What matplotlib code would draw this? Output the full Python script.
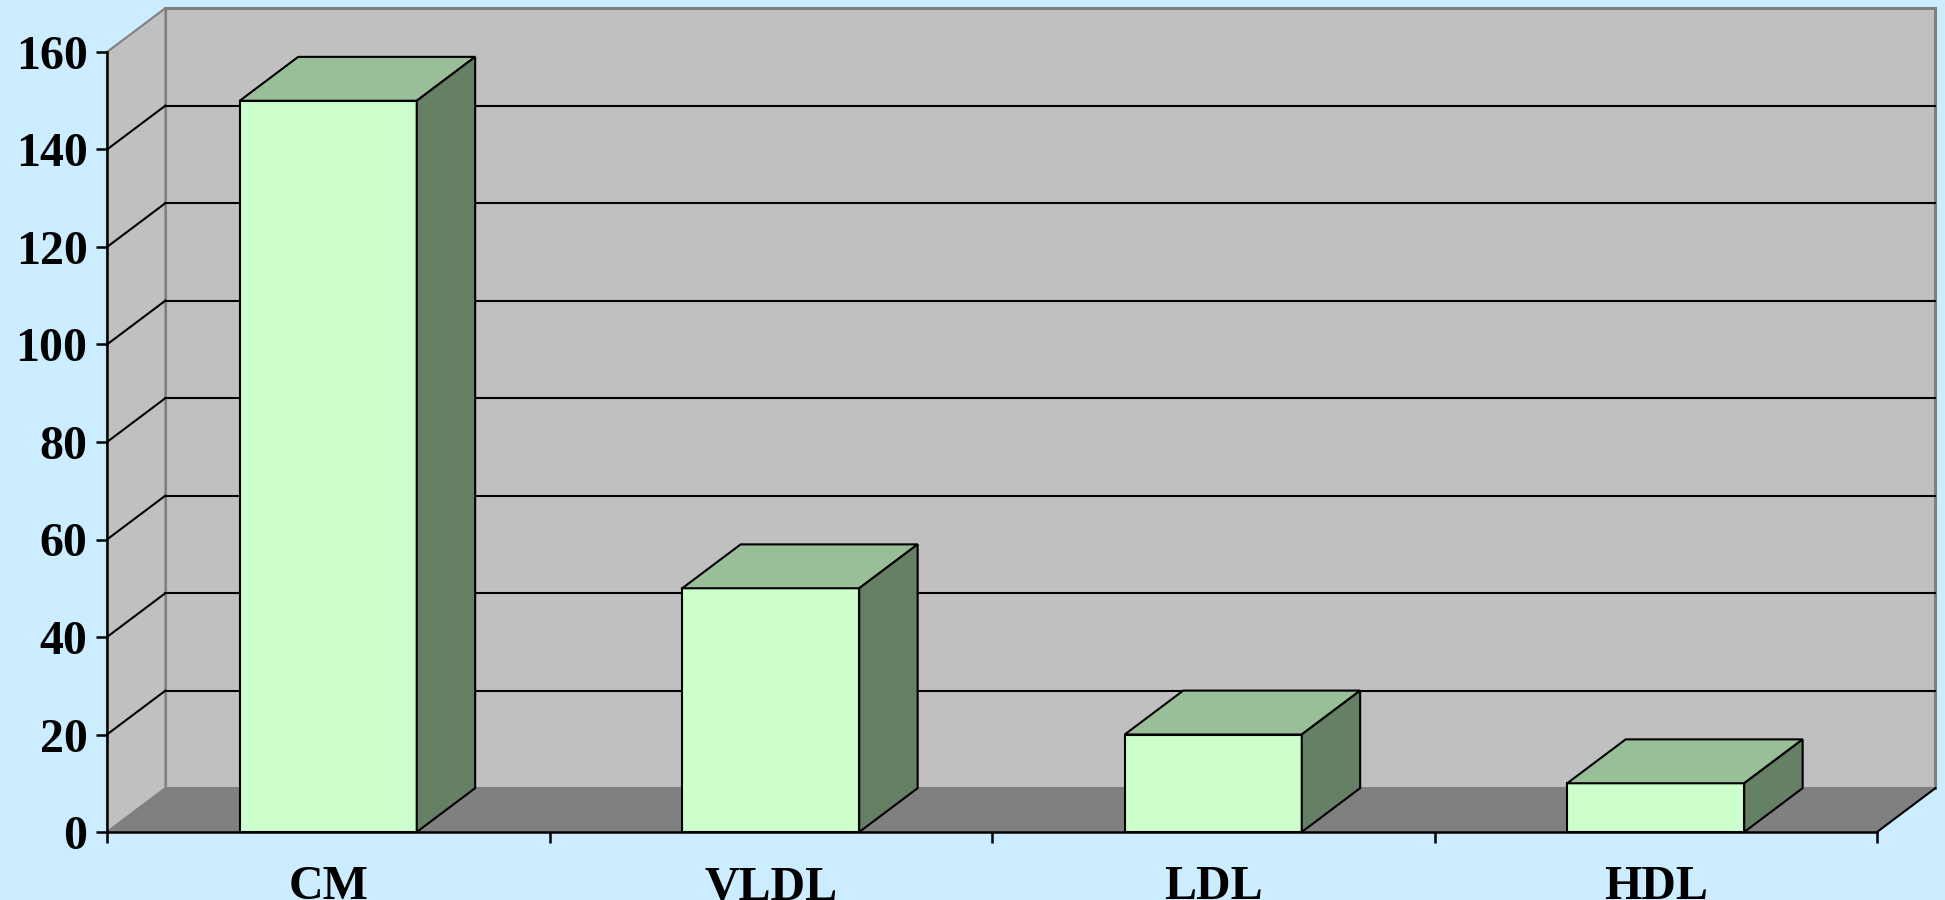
import matplotlib.pyplot as plt
from matplotlib.patches import Polygon

# dane
kategorie = ['CM', 'VLDL', 'LDL', 'HDL']
wartosci = [150, 50, 20, 10]
y_ticks = [0, 20, 40, 60, 80, 100, 120, 140, 160]

tlo = '#CCECFF'
sciana = '#C0C0C0'
podloga = '#808080'
przod = '#CCFFCC'
gora = '#99BF99'
bok = '#668066'

# przesuniecie "glebi" w jednostkach osi
gx, gy = 0.132, 9.0
ymax = 160
n = len(kategorie)

plt.rcParams['font.family'] = ['Liberation Serif', 'DejaVu Serif']
fig = plt.figure(figsize=(19.45, 9.0), dpi=100, facecolor=tlo)
ax = fig.add_axes([107 / 1945, 68 / 900, 1770 / 1945, 780 / 900])
ax.set_facecolor('none')
ax.set_xlim(0, n)
ax.set_ylim(0, ymax)


def wielokat(pts, fc, ec='black', lw=1.5, z=1):
    ax.add_patch(Polygon(pts, closed=True, facecolor=fc, edgecolor=ec,
                         linewidth=lw, zorder=z, clip_on=False))


# sciana tylna, boczna i podloga
wielokat([(gx, gy), (n + gx, gy), (n + gx, ymax + gy), (gx, ymax + gy)],
         sciana, ec=podloga, lw=2.2, z=1)
wielokat([(0, 0), (gx, gy), (gx, ymax + gy), (0, ymax)],
         sciana, ec=podloga, lw=1.5, z=1)
wielokat([(0, 0), (n, 0), (n + gx, gy), (gx, gy)],
         podloga, ec=podloga, lw=1.0, z=1)
ax.plot([n, n + gx], [0, gy], color='black', lw=1.5, zorder=2, clip_on=False)

# linie siatki
for v in y_ticks[1:-1]:
    ax.plot([gx, n + gx], [v + gy, v + gy], color='black', lw=1.5,
            zorder=2, clip_on=False)
    ax.plot([0, gx], [v, v + gy], color='black', lw=1.5,
            zorder=2, clip_on=False)

# slupki 3D
szer = 0.4
for i, v in enumerate(wartosci):
    x0 = i + 0.5 - szer / 2
    x1 = i + 0.5 + szer / 2
    wielokat([(x0, 0), (x1, 0), (x1, v), (x0, v)], przod, z=3)
    wielokat([(x0, v), (x1, v), (x1 + gx, v + gy), (x0 + gx, v + gy)], gora, z=3)
    wielokat([(x1, 0), (x1 + gx, gy), (x1 + gx, v + gy), (x1, v)], bok, z=3)

# osie
for s in ['top', 'right']:
    ax.spines[s].set_visible(False)
for s in ['left', 'bottom']:
    ax.spines[s].set_linewidth(1.8)
    ax.spines[s].set_zorder(4)

ax.set_yticks(y_ticks)
ax.set_yticklabels([str(t) for t in y_ticks])
ax.set_xticks(range(n + 1))
ax.set_xticklabels([''] * (n + 1))
ax.set_xticks([i + 0.5 for i in range(n)], minor=True)
ax.set_xticklabels(kategorie, minor=True)
ax.tick_params(axis='y', direction='out', length=8, width=1.8, pad=6,
               labelsize=34.5)
ax.tick_params(axis='x', which='major', direction='out', length=8, width=1.8)
ax.tick_params(axis='x', which='minor', length=0, pad=24, labelsize=34.5)
for lab in ax.get_yticklabels() + ax.get_xticklabels(minor=True):
    lab.set_fontweight('bold')

fig.savefig('out.png', dpi=100, facecolor=tlo)
